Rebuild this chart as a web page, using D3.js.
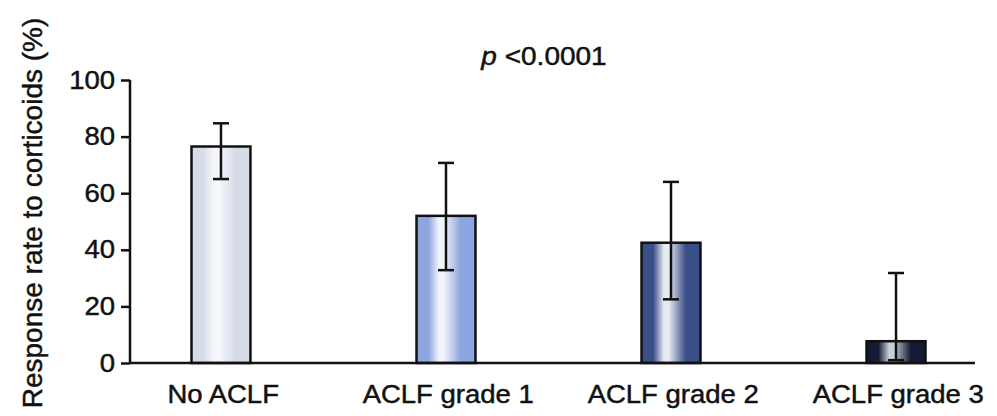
<!DOCTYPE html>
<html>
<head>
<meta charset="utf-8">
<script src="https://cdn.jsdelivr.net/npm/d3@7"></script>
<style>
  html, body { margin: 0; padding: 0; background: #fff; }
  svg { display: block; font-family: "Liberation Sans", Arial, sans-serif; }
  .lbl { stroke: #111; stroke-width: 0.45px; paint-order: stroke; }
</style>
</head>
<body>
<svg id="chart" width="997" height="416"></svg>
<script>
// Response rate to corticoids by ACLF grade (mean with error range)
const categories = ["No ACLF", "ACLF grade 1", "ACLF grade 2", "ACLF grade 3"];
const responseRate = [76.5, 52, 42.5, 7.7];
const errorUpper = [84.7, 70.7, 64, 31.8];
const errorLower = [65, 32.8, 22.5, 1];
const yTicks = [0, 20, 40, 60, 80, 100];
const barBase = ["#d5dbe7", "#8da6df", "#3a4f88", "#141b33"];
const barShine = ["#f6f7fb", "#f2f4fb", "#e9ebf3", "#c9cdd8"];
const pLabel = "<0.0001";

const svg = d3.select("#chart");
const W = 997, H = 416;
const axisLeft = 130, axisRight = 975, plotTop = 80, plotBottom = 363;

const x = d3.scaleBand()
  .domain(categories)
  .range([191.5, 925.5])
  .paddingInner(0.738)
  .paddingOuter(0);

const y = d3.scaleLinear().domain([0, 100]).range([plotBottom, plotTop]);

// gradients that give each bar its cylindrical sheen
const defs = svg.append("defs");
categories.forEach((c, i) => {
  const g = defs.append("linearGradient").attr("id", "grad" + i)
    .attr("x1", "0%").attr("x2", "100%").attr("y1", "0%").attr("y2", "0%");
  g.append("stop").attr("offset", "0%").attr("stop-color", barBase[i]);
  g.append("stop").attr("offset", "20%").attr("stop-color", barBase[i]);
  g.append("stop").attr("offset", "38%").attr("stop-color", barShine[i]);
  g.append("stop").attr("offset", "46%").attr("stop-color", barShine[i]);
  g.append("stop").attr("offset", "75%").attr("stop-color", barBase[i]);
  g.append("stop").attr("offset", "100%").attr("stop-color", barBase[i]);
});

// bars
svg.append("g").selectAll("rect")
  .data(categories)
  .join("rect")
  .attr("x", d => x(d))
  .attr("y", (d, i) => y(responseRate[i]))
  .attr("width", x.bandwidth())
  .attr("height", (d, i) => y(0) - y(responseRate[i]))
  .attr("fill", (d, i) => `url(#grad${i})`)
  .attr("stroke", "#111")
  .attr("stroke-width", 2.5);

// error bars
const capW = 8;
const eb = svg.append("g").attr("stroke", "#111").attr("stroke-width", 2.5);
categories.forEach((c, i) => {
  const cx = x(c) + x.bandwidth() / 2;
  eb.append("line").attr("x1", cx).attr("x2", cx)
    .attr("y1", y(errorUpper[i])).attr("y2", y(errorLower[i]));
  [errorUpper[i], errorLower[i]].forEach(v => {
    eb.append("line").attr("x1", cx - capW).attr("x2", cx + capW)
      .attr("y1", y(v)).attr("y2", y(v));
  });
});

// y axis
const yAxis = svg.append("g")
  .attr("transform", `translate(${axisLeft},0)`)
  .call(d3.axisLeft(y).tickValues(yTicks).tickSize(9).tickPadding(6));
yAxis.select(".domain").attr("stroke", "#111").attr("stroke-width", 2.5)
  .attr("d", `M0,${y(100)}V${y(0)}`);
yAxis.selectAll(".tick line").attr("stroke", "#111").attr("stroke-width", 2.5);
yAxis.selectAll(".tick text")
  .attr("class", "lbl")
  .attr("fill", "#111")
  .attr("font-size", 25)
  .attr("font-family", "'Liberation Sans', Arial, sans-serif")
  .attr("transform", function () {
    const tx = +d3.select(this).attr("x");
    return `translate(${tx},0) scale(1.1,1) translate(${-tx},0)`;
  });

// x axis baseline and category labels
const xAxis = svg.append("g")
  .attr("transform", `translate(0,${y(0)})`)
  .call(d3.axisBottom(x).tickSize(0).tickPadding(22));
xAxis.select(".domain").attr("stroke", "#111").attr("stroke-width", 2.5)
  .attr("d", `M${axisLeft},0H${axisRight}`);
xAxis.selectAll(".tick text")
  .attr("class", "lbl")
  .attr("fill", "#111")
  .attr("font-size", 25)
  .attr("font-family", "'Liberation Sans', Arial, sans-serif")
  .attr("transform", "scale(1.1,1)")
  .attr("x", 2);

// y axis title
svg.append("text")
  .attr("class", "lbl")
  .attr("transform", `translate(42,${213}) rotate(-90)`)
  .attr("text-anchor", "middle")
  .attr("font-size", 28)
  .attr("fill", "#111")
  .text("Response rate to corticoids (%)");

// significance label
const pText = svg.append("text")
  .attr("class", "lbl")
  .attr("transform", "translate(544,65) scale(1.12,1)")
  .attr("text-anchor", "middle")
  .attr("font-size", 25)
  .attr("fill", "#111");
pText.append("tspan").attr("font-style", "italic").text("p");
pText.append("tspan").text(" " + pLabel);
</script>
</body>
</html>
